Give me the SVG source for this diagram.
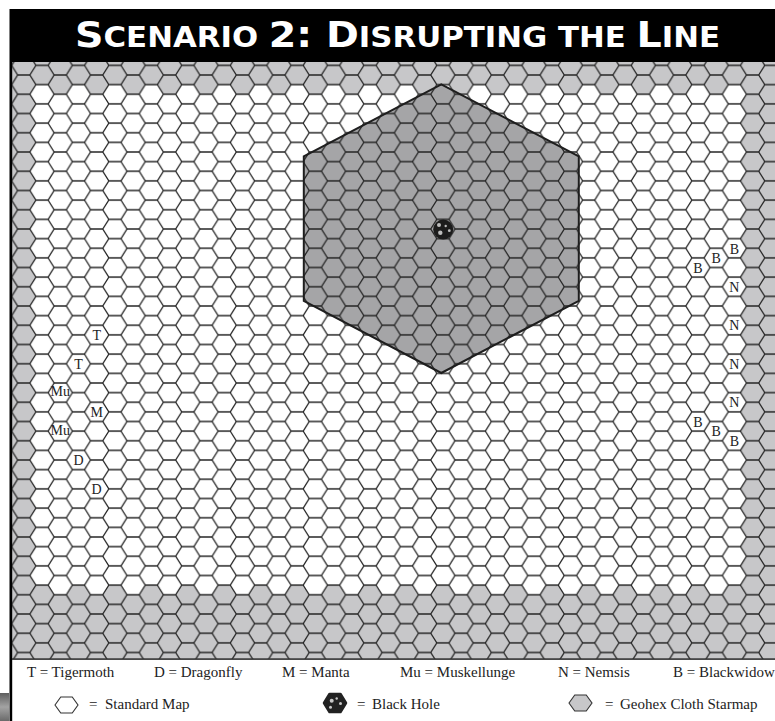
<svg xmlns="http://www.w3.org/2000/svg" width="775" height="721" viewBox="0 0 775 721">
<style>
.title{font-family:"DejaVu Sans","Liberation Sans",sans-serif;font-weight:bold;fill:#fff}
.lbl{font-family:"Liberation Serif","DejaVu Serif",serif;font-size:14px;fill:#222;text-anchor:middle}
.leg{font-family:"Liberation Serif","DejaVu Serif",serif;font-size:15px;fill:#222}
.icon{stroke:#333;stroke-width:1.1}
</style>
<defs>
<clipPath id="mapclip"><rect x="12" y="62" width="763" height="597"/></clipPath>
<pattern id="grid" patternUnits="userSpaceOnUse" x="42" y="75" width="36.441" height="19.25">
<path d="M0,9.625H6.0735L12.147,0M6.0735,9.625L12.147,19.25M12.147,0H24.294L30.3675,9.625L24.294,19.25M12.147,19.25H24.294M30.3675,9.625H36.441" fill="none" stroke="#222" stroke-width="1.3"/>
</pattern>
<linearGradient id="tab" x1="0" y1="0" x2="0" y2="1">
<stop offset="0" stop-color="#5e5e5e"/><stop offset="0.5" stop-color="#a3a3a3"/><stop offset="1" stop-color="#6a6a6a"/>
</linearGradient>
</defs>

<g id="title">
<rect x="9.5" y="9" width="766" height="53" fill="#000"/>
<text class="title" x="75" y="47" textLength="645" lengthAdjust="spacingAndGlyphs"><tspan font-size="36">S</tspan><tspan font-size="28">CENARIO </tspan><tspan font-size="36">2: D</tspan><tspan font-size="28">ISRUPTING THE </tspan><tspan font-size="36">L</tspan><tspan font-size="28">INE</tspan></text>
</g>

<g id="map" clip-path="url(#mapclip)">
<rect id="geohex-cloth" x="12" y="62" width="763" height="597" fill="#c7c7c9"/>
<path id="standard-map" fill="#fff" d="M35.927,84.625
h12.147l6.0735,9.625h12.147l6.0735-9.625h12.147l6.0735,9.625h12.147l6.0735-9.625h12.147l6.0735,9.625h12.147l6.0735-9.625h12.147l6.0735,9.625h12.147l6.0735-9.625
h12.147l6.0735,9.625h12.147l6.0735-9.625h12.147l6.0735,9.625h12.147l6.0735-9.625h12.147l6.0735,9.625h12.147l6.0735-9.625h12.147l6.0735,9.625h12.147l6.0735-9.625
h12.147l6.0735,9.625h12.147l6.0735-9.625h12.147l6.0735,9.625h12.147l6.0735-9.625h12.147l6.0735,9.625h12.147l6.0735-9.625h12.147l6.0735,9.625h12.147l6.0735-9.625
h12.147l6.0735,9.625h12.147l6.0735-9.625h12.147l6.0735,9.625h12.147l6.0735-9.625h12.147l6.0735,9.625h12.147l6.0735-9.625h12.147l6.0735,9.625h12.147l6.0735-9.625
h12.147l6.0735,9.625h12.147l6.0735-9.625h12.147l6.0735,9.625h12.147l6.0735-9.625h12.147l6.0735,9.625h12.147l6.0735-9.625
h12.147
l6.0735,9.625l-6.0735,9.625l6.0735,9.625l-6.0735,9.625l6.0735,9.625l-6.0735,9.625l6.0735,9.625l-6.0735,9.625l6.0735,9.625l-6.0735,9.625
l6.0735,9.625l-6.0735,9.625l6.0735,9.625l-6.0735,9.625l6.0735,9.625l-6.0735,9.625l6.0735,9.625l-6.0735,9.625l6.0735,9.625l-6.0735,9.625
l6.0735,9.625l-6.0735,9.625l6.0735,9.625l-6.0735,9.625l6.0735,9.625l-6.0735,9.625l6.0735,9.625l-6.0735,9.625l6.0735,9.625l-6.0735,9.625
l6.0735,9.625l-6.0735,9.625l6.0735,9.625l-6.0735,9.625l6.0735,9.625l-6.0735,9.625l6.0735,9.625l-6.0735,9.625l6.0735,9.625l-6.0735,9.625
l6.0735,9.625l-6.0735,9.625l6.0735,9.625l-6.0735,9.625l6.0735,9.625l-6.0735,9.625l6.0735,9.625l-6.0735,9.625l6.0735,9.625l-6.0735,9.625
l6.0735,9.625l-6.0735,9.625
h-12.147
l-6.0735,9.625h-12.147l-6.0735-9.625h-12.147l-6.0735,9.625h-12.147l-6.0735-9.625h-12.147l-6.0735,9.625h-12.147l-6.0735-9.625h-12.147l-6.0735,9.625h-12.147l-6.0735-9.625h-12.147
l-6.0735,9.625h-12.147l-6.0735-9.625h-12.147l-6.0735,9.625h-12.147l-6.0735-9.625h-12.147l-6.0735,9.625h-12.147l-6.0735-9.625h-12.147l-6.0735,9.625h-12.147l-6.0735-9.625h-12.147
l-6.0735,9.625h-12.147l-6.0735-9.625h-12.147l-6.0735,9.625h-12.147l-6.0735-9.625h-12.147l-6.0735,9.625h-12.147l-6.0735-9.625h-12.147l-6.0735,9.625h-12.147l-6.0735-9.625h-12.147
l-6.0735,9.625h-12.147l-6.0735-9.625h-12.147l-6.0735,9.625h-12.147l-6.0735-9.625h-12.147l-6.0735,9.625h-12.147l-6.0735-9.625h-12.147l-6.0735,9.625h-12.147l-6.0735-9.625h-12.147
l-6.0735,9.625h-12.147l-6.0735-9.625h-12.147l-6.0735,9.625h-12.147l-6.0735-9.625h-12.147l-6.0735,9.625h-12.147l-6.0735-9.625h-12.147
l-6.0735-9.625l6.0735-9.625l-6.0735-9.625l6.0735-9.625l-6.0735-9.625l6.0735-9.625l-6.0735-9.625l6.0735-9.625l-6.0735-9.625l6.0735-9.625
l-6.0735-9.625l6.0735-9.625l-6.0735-9.625l6.0735-9.625l-6.0735-9.625l6.0735-9.625l-6.0735-9.625l6.0735-9.625l-6.0735-9.625l6.0735-9.625
l-6.0735-9.625l6.0735-9.625l-6.0735-9.625l6.0735-9.625l-6.0735-9.625l6.0735-9.625l-6.0735-9.625l6.0735-9.625l-6.0735-9.625l6.0735-9.625
l-6.0735-9.625l6.0735-9.625l-6.0735-9.625l6.0735-9.625l-6.0735-9.625l6.0735-9.625l-6.0735-9.625l6.0735-9.625l-6.0735-9.625l6.0735-9.625
l-6.0735-9.625l6.0735-9.625l-6.0735-9.625l6.0735-9.625l-6.0735-9.625l6.0735-9.625l-6.0735-9.625l6.0735-9.625l-6.0735-9.625l6.0735-9.625
l-6.0735-9.625l6.0735-9.625z"/>
<polygon id="big-hex-fill" points="441.3,84.3 578.8,156.45 578.8,300.85 441.3,373 303.8,300.85 303.8,156.45" fill="#a5a5a7"/>
<rect id="hex-grid" x="12" y="62" width="763" height="597" fill="url(#grid)"/>
<polygon id="big-hex" points="441.3,84.3 578.8,156.45 578.8,300.85 441.3,373 303.8,300.85 303.8,156.45" fill="none" stroke="#1e1e1e" stroke-width="2"/>
</g>

<g id="black-hole">
<circle cx="443.2" cy="229.5" r="10" fill="#1c1c1c"/>
<circle cx="439" cy="225" r="2" fill="#bdbdbd"/>
<circle cx="445.7" cy="226" r="1.2" fill="#bdbdbd"/>
<circle cx="440.3" cy="232.7" r="2.2" fill="#bdbdbd"/>
<circle cx="449.3" cy="230.7" r="1.4" fill="#bdbdbd"/>
</g>

<g id="ship-labels">
<text class="lbl" x="96.66" y="339.9">T</text>
<text class="lbl" x="78.44" y="368.7">T</text>
<text class="lbl" x="60.22" y="396">Mu</text>
<text class="lbl" x="96.66" y="416.9">M</text>
<text class="lbl" x="60.22" y="434.5">Mu</text>
<text class="lbl" x="78.44" y="465">D</text>
<text class="lbl" x="96.66" y="493.9">D</text>
<text class="lbl" x="734.38" y="253.5">B</text>
<text class="lbl" x="716.16" y="263">B</text>
<text class="lbl" x="697.94" y="272.5">B</text>
<text class="lbl" x="734.38" y="291.9">N</text>
<text class="lbl" x="734.38" y="330.4">N</text>
<text class="lbl" x="734.38" y="368.9">N</text>
<text class="lbl" x="734.38" y="407.4">N</text>
<text class="lbl" x="697.94" y="426.6">B</text>
<text class="lbl" x="716.16" y="436.2">B</text>
<text class="lbl" x="734.38" y="445.9">B</text>
</g>

<g id="frame">
<rect x="9.5" y="62" width="2.7" height="659" fill="#000"/>
<rect x="12" y="658.3" width="763" height="1.6" fill="#333"/>
<rect x="0" y="693" width="9" height="28" fill="url(#tab)"/>
</g>

<g id="legend">
<text class="leg" x="27" y="677">T = Tigermoth</text>
<text class="leg" x="154" y="677">D = Dragonfly</text>
<text class="leg" x="282" y="677">M = Manta</text>
<text class="leg" x="400" y="677">Mu = Muskellunge</text>
<text class="leg" x="558" y="677">N = Nemsis</text>
<text class="leg" x="673" y="677">B = Blackwidow</text>
<polygon class="icon" points="55,705 60.75,697 72.25,697 78,705 72.25,713 60.75,713" fill="#fff"/>
<text class="leg" x="89" y="709">=<tspan x="105">Standard Map</tspan></text>
<polygon points="324,703 329.5,694 340.5,694 346,703 340.5,712 329.5,712" fill="#222" stroke="#222" stroke-width="2.5" stroke-linejoin="round"/>
<circle cx="331.7" cy="700.7" r="2" fill="#c8c8c8"/>
<circle cx="336.7" cy="698.5" r="1.2" fill="#c8c8c8"/>
<circle cx="340.5" cy="703.5" r="1.5" fill="#c8c8c8"/>
<circle cx="330.5" cy="707.3" r="1.5" fill="#c8c8c8"/>
<text class="leg" x="357" y="709">=<tspan x="372">Black Hole</tspan></text>
<polygon class="icon" points="569,703 574.75,695 586.25,695 592,703 586.25,711 574.75,711" fill="#c7c7c9"/>
<text class="leg" x="605" y="709">=<tspan x="620">Geohex Cloth Starmap</tspan></text>
</g>
</svg>
